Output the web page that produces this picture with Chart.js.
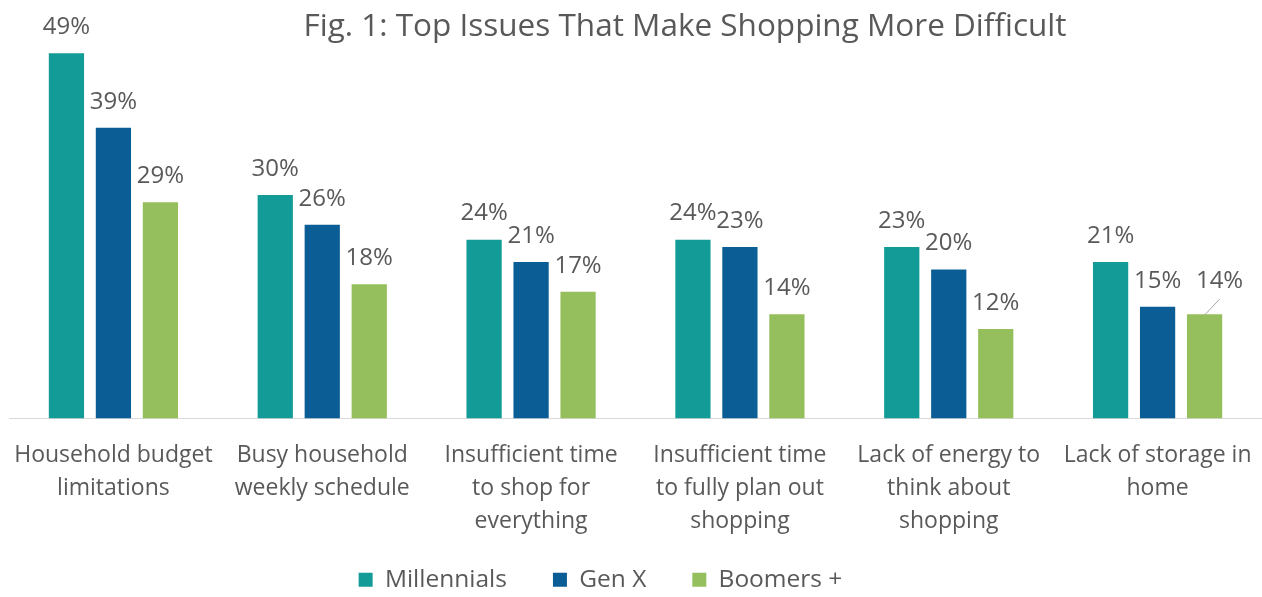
<!DOCTYPE html>
<html>
<head>
<meta charset="utf-8">
<script src="https://cdn.jsdelivr.net/npm/chart.js@4.4.0/dist/chart.umd.min.js"></script>
<style>
  html, body { margin: 0; padding: 0; background: #fff; }
  #wrap { width: 1262px; height: 597px; position: relative; }
</style>
</head>
<body>
<div id="wrap"><canvas id="issues_chart"></canvas></div>
<script>
const TITLE = 'Fig. 1: Top Issues That Make Shopping More Difficult';

const categories = [
    ['Household budget', 'limitations'],
    ['Busy household', 'weekly schedule'],
    ['Insufficient time', 'to shop for', 'everything'],
    ['Insufficient time', 'to fully plan out', 'shopping'],
    ['Lack of energy to', 'think about', 'shopping'],
    ['Lack of storage in', 'home']
];

const series_names = ['Millennials', 'Gen X', 'Boomers +'];
const millennials = [49, 30, 24, 24, 23, 21];
const gen_x = [39, 26, 21, 23, 20, 15];
const boomers = [29, 18, 17, 14, 12, 14];

const colores = ['#139c97', '#0b5e95', '#95bf5d'];
const texto = '#595959';
const fuente = "'Open Sans', 'Noto Sans', sans-serif";

// value labels over every bar, the last green one is pushed aside with a leader line
const etiquetas = {
    id: 'etiquetas',
    beforeInit(chart) {
        // the legend's top padding may overlap the axis labels
        const fit = chart.legend.fit;
        chart.legend.fit = function () {
            fit.call(this);
            this.height -= 42;
        };
    },
    afterLayout(chart) {
        const lg = chart.legend;
        lg.top -= 37;
        // legend row sits slightly left of the canvas centre
        lg.left -= 35;
        lg.right -= 35;
    },
    afterDatasetsDraw(chart) {
        const ctx = chart.ctx;
        ctx.save();
        ctx.font = '24px ' + fuente;
        ctx.fillStyle = texto;
        ctx.textAlign = 'center';
        ctx.textBaseline = 'middle';
        chart.data.datasets.forEach((ds, i) => {
            chart.getDatasetMeta(i).data.forEach((bar, j) => {
                let x = bar.x;
                let y = bar.y - 26;
                if (i === 2 && j === ds.data.length - 1) {
                    ctx.strokeStyle = '#a6a6a6';
                    ctx.lineWidth = 1;
                    ctx.beginPath();
                    ctx.moveTo(bar.x, bar.y + 1);
                    ctx.lineTo(bar.x + 15, bar.y - 15);
                    ctx.stroke();
                    x = bar.x + 15;
                    y = bar.y - 33;
                }
                ctx.fillText(ds.data[j] + '%', x, y);
            });
        });
        ctx.font = '31.5px ' + fuente;
        ctx.fillText(TITLE, 685, 27);
        ctx.restore();
    }
};

new Chart(document.getElementById('issues_chart'), {
    type: 'bar',
    data: {
        labels: categories,
        datasets: [
            { label: series_names[0], data: millennials, backgroundColor: colores[0] },
            { label: series_names[1], data: gen_x, backgroundColor: colores[1] },
            { label: series_names[2], data: boomers, backgroundColor: colores[2] }
        ]
    },
    options: {
        responsive: true,
        maintainAspectRatio: false,
        animation: false,
        devicePixelRatio: 1,
        categoryPercentage: 0.675,
        barPercentage: 0.75,
        layout: { padding: { top: 31, left: 9, right: 0, bottom: 0 } },
        scales: {
            x: {
                grid: { display: false, drawTicks: false },
                border: { color: '#d9d9d9', width: 1 },
                ticks: {
                    color: texto,
                    font: { family: fuente, size: 23, lineHeight: 1.45 },
                    padding: 20,
                    maxRotation: 0,
                    autoSkip: false
                },
                // no side padding for the long outer labels
                afterFit(scale) {
                    scale.paddingLeft = 0;
                    scale.paddingRight = 0;
                }
            },
            y: {
                display: false,
                min: 0,
                max: 52
            }
        },
        plugins: {
            legend: {
                position: 'bottom',
                labels: {
                    color: texto,
                    font: { family: fuente, size: 24.5 },
                    boxWidth: 14,
                    boxHeight: 14,
                    padding: 46
                }
            },
            tooltip: { enabled: false }
        }
    },
    plugins: [etiquetas]
});
</script>
</body>
</html>
